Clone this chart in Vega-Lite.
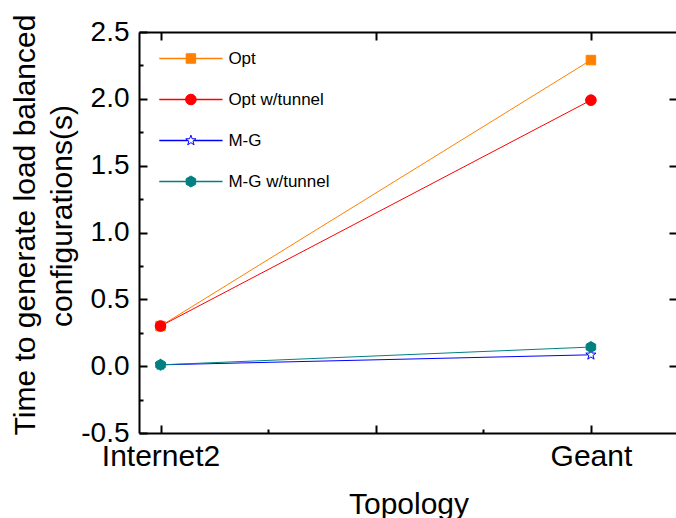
{
  "$schema": "https://vega.github.io/schema/vega-lite/v6.json",
  "autosize": {"type": "none"},
  "padding": {"left": 139, "top": 32, "right": 0, "bottom": 85},
  "width": 538,
  "height": 401,
  "background": "white",
  "config": {
    "font": "Liberation Sans",
    "view": {"stroke": null},
    "axis": {"grid": false, "domainColor": "black", "domainWidth": 2, "tickColor": "black", "tickWidth": 2, "labelColor": "black", "titleColor": "black", "labelFont": "Liberation Sans", "titleFont": "Liberation Sans", "titleFontWeight": "normal"},
    "legend": {
      "title": null, "orient": "none", "legendX": 19.4, "legendY": -6, "padding": 0,
      "symbolSize": 4000, "symbolStrokeWidth": 1, "labelFontSize": 17, "labelOffset": 5, "labelColor": "black", "labelFont": "Liberation Sans",
      "rowPadding": -6, "labelLimit": 300
    }
  },
  "data": {
    "values": [
      {"topology": "Internet2", "idx": 1, "series": "Opt", "time": 0.30},
      {"topology": "Geant", "idx": 2, "series": "Opt", "time": 2.29},
      {"topology": "Internet2", "idx": 1, "series": "Opt w/tunnel", "time": 0.30},
      {"topology": "Geant", "idx": 2, "series": "Opt w/tunnel", "time": 1.99},
      {"topology": "Internet2", "idx": 1, "series": "M-G", "time": 0.01},
      {"topology": "Geant", "idx": 2, "series": "M-G", "time": 0.085},
      {"topology": "Internet2", "idx": 1, "series": "M-G w/tunnel", "time": 0.01},
      {"topology": "Geant", "idx": 2, "series": "M-G w/tunnel", "time": 0.143}
    ]
  },
  "resolve": {"axis": {"x": "independent", "y": "independent"}},
  "layer": [
    {
      "mark": {"type": "line", "strokeWidth": 1},
      "encoding": {
        "x": {"field": "idx", "type": "quantitative",
          "scale": {"domain": [0.95, 2.2], "nice": false, "zero": false},
          "axis": {"orient": "bottom", "values": [1, 1.5, 2], "labelExpr": "datum.value === 1 ? 'Internet2' : datum.value === 2 ? 'Geant' : ''",
            "tickSize": -8, "labelPadding": 16, "labelFontSize": 30, "labelAngle": 0, "labelFlush": false, "labelOverlap": false,
            "title": "Topology", "titleFontSize": 30, "titleX": 269.5, "titleY": 80, "titleBaseline": "alphabetic", "titleAnchor": null, "titleAlign": "center"}},
        "y": {"field": "time", "type": "quantitative",
          "scale": {"domain": [-0.5, 2.5], "nice": false, "zero": false},
          "axis": {"orient": "left", "values": [-0.5, 0, 0.5, 1, 1.5, 2, 2.5],
            "labelExpr": "replace(format(datum.value, '.1f'), '\u2212', '-')",
            "tickSize": -8, "labelPadding": 18, "labelFontSize": 28, "labelFlush": false, "labelOverlap": false, "labelBaseline": "middle",
            "title": "Time to generate load balanced", "titleFontSize": 30, "titleAngle": -90, "titleX": -105, "titleY": 192.5, "titleBaseline": "alphabetic", "titleAlign": "center", "titleAnchor": null}},
        "color": {"field": "series", "type": "nominal",
          "sort": ["Opt", "Opt w/tunnel", "M-G", "M-G w/tunnel"],
          "scale": {"range": ["#FF8000", "#FF0000", "#0000FF", "#008080"]},
          "legend": {"symbolType": "stroke", "symbolStrokeWidth": 1.3, "labelOpacity": 0, "symbolSize": 4000}}
      }
    },
    {
      "mark": {"type": "point", "filled": false, "size": 4000, "strokeWidth": 1, "opacity": 1},
      "encoding": {
        "x": {"field": "idx", "type": "quantitative",
          "scale": {"domain": [0.95, 2.2], "nice": false, "zero": false},
          "axis": {"orient": "top", "values": [1, 1.5, 2], "labels": false, "tickSize": -8, "title": null}},
        "y": {"field": "time", "type": "quantitative",
          "scale": {"domain": [-0.5, 2.5], "nice": false, "zero": false},
          "axis": {"orient": "right", "values": [0, 0.5, 1, 1.5, 2], "labels": false, "tickSize": -8, "title": null}},
        "shape": {"field": "series", "type": "nominal",
          "scale": {"domain": ["Opt", "Opt w/tunnel", "M-G", "M-G w/tunnel"],
            "range": [
              "M-0.15,-0.15H0.15V0.15H-0.15Z",
              "M-0.168,0A0.168,0.168 0 1,0 0.168,0A0.168,0.168 0 1,0 -0.168,0Z",
              "M0,-0.17L0.04,-0.055L0.162,-0.053L0.065,0.021L0.1,0.138L0,0.068L-0.1,0.138L-0.065,0.021L-0.162,-0.053L-0.04,-0.055Z",
              "M0,-0.174L0.151,-0.087L0.151,0.087L0,0.174L-0.151,0.087L-0.151,-0.087Z"]},
          "legend": {"symbolSize": 4000, "symbolStrokeWidth": 1}},
        "fill": {"field": "series", "type": "nominal",
          "scale": {"domain": ["Opt", "Opt w/tunnel", "M-G", "M-G w/tunnel"], "range": ["#FF8000", "#FF0000", "#FFFFFF", "#008080"]},
          "legend": {"symbolSize": 4000, "symbolStrokeWidth": 1}},
        "stroke": {"field": "series", "type": "nominal",
          "scale": {"domain": ["Opt", "Opt w/tunnel", "M-G", "M-G w/tunnel"], "range": ["#FF8000", "#FF0000", "#0000FF", "#008080"]},
          "legend": {"symbolSize": 4000, "symbolStrokeWidth": 1}}
      }
    },
    {
      "mark": {"type": "point", "opacity": 0},
      "encoding": {
        "x": {"field": "idx", "type": "quantitative",
          "scale": {"domain": [0.95, 2.2], "nice": false, "zero": false},
          "axis": {"orient": "bottom", "values": [1.25, 1.75], "labels": false, "domain": false, "tickSize": -4, "title": null}},
        "y": {"field": "time", "type": "quantitative",
          "scale": {"domain": [-0.5, 2.5], "nice": false, "zero": false},
          "axis": {"orient": "left", "values": [-0.25, 0.25, 0.75, 1.25, 1.75, 2.25], "labels": false, "domain": false, "tickSize": -4,
            "title": "configurations(s)", "titleFontSize": 30, "titleAngle": -90, "titleX": -68, "titleY": 183.5, "titleBaseline": "alphabetic", "titleAlign": "center", "titleAnchor": null}}
      }
    }
  ]
}
